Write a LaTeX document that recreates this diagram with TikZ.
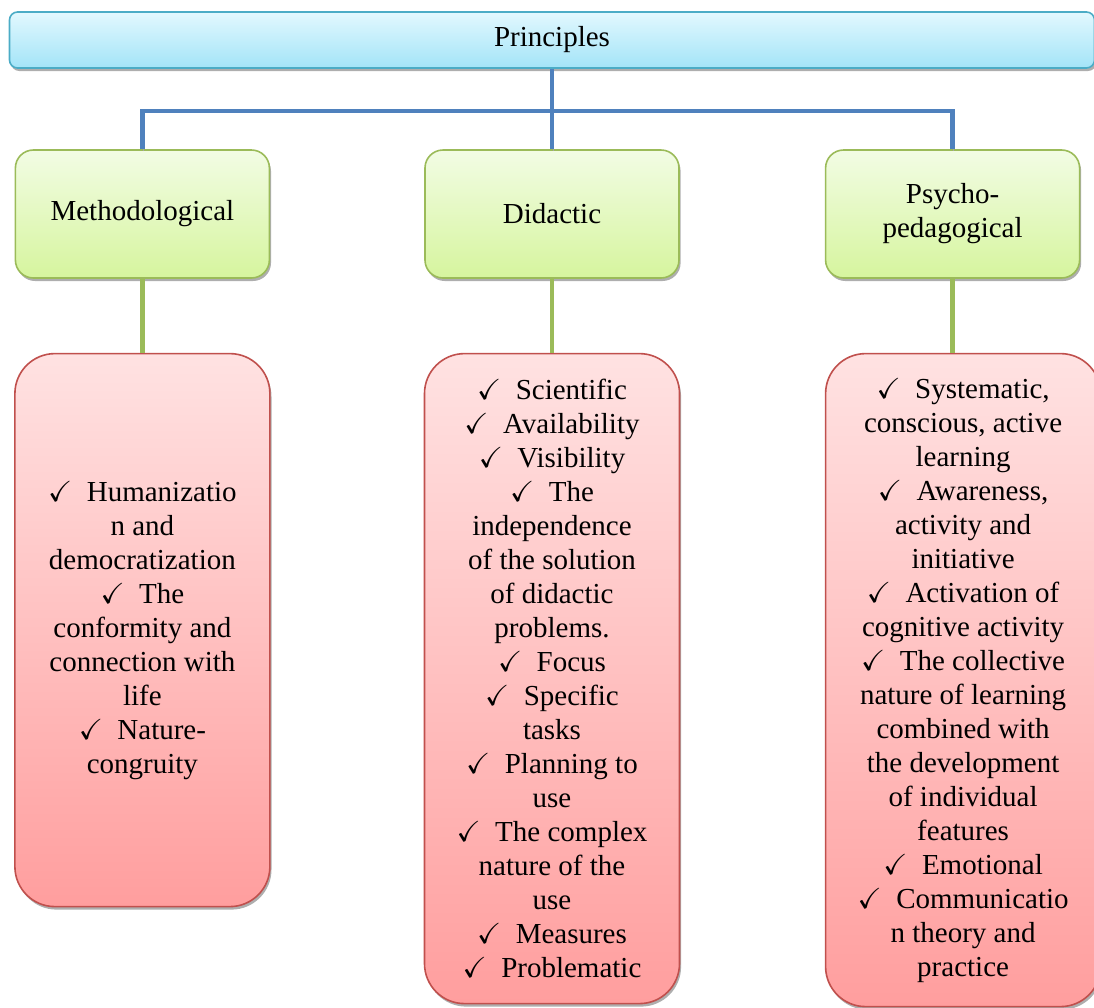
\documentclass[tikz,border=0pt]{standalone}
\usepackage{amssymb}
\usepackage{fontspec}
\setmainfont{Liberation Serif}
\usetikzlibrary{positioning, calc, shadows}
\definecolor{headtop}{HTML}{E2F8FE}
\definecolor{headbot}{HTML}{A3E4F8}
\definecolor{headline}{HTML}{4BACC6}
\definecolor{grptop}{HTML}{F2FCE4}
\definecolor{grpbot}{HTML}{D6F59E}
\definecolor{grpline}{HTML}{9BBB59}
\definecolor{itemtop}{HTML}{FFE2E2}
\definecolor{itembot}{HTML}{FF9E9E}
\definecolor{itemline}{HTML}{C0504D}
\definecolor{busblue}{HTML}{4F81BD}
\newcommand{\chkmark}{$\checkmark$\ \ }

\begin{document}
\begin{tikzpicture}[
    x=0.5pt, y=-0.5pt,
    node distance=37pt,
    every node/.style={font=\fontsize{14.5}{17}\selectfont, align=center},
    boxshadow/.style={drop shadow={shadow xshift=0.8pt, shadow yshift=-1.5pt, fill=black!45, opacity=0.7}},
    header/.style={rectangle, rounded corners=4pt, draw=headline, thick, top color=headtop, bottom color=headbot, minimum width=542.5pt, minimum height=28pt, boxshadow},
    group/.style={rectangle, rounded corners=9pt, draw=grpline, thick, top color=grptop, bottom color=grpbot, minimum width=127pt, minimum height=64pt, boxshadow},
    items/.style={rectangle, rounded corners=20pt, draw=itemline, thick, top color=itemtop, bottom color=itembot, minimum width=127.5pt, boxshadow},
    busline/.style={draw=busblue, line width=2.25pt, preaction={draw=black!35, transform canvas={shift={(0.6pt,-0.9pt)}}}},
    stemline/.style={draw=grpline, line width=2.25pt}
]
\useasboundingbox (0,0) rectangle (1094,1008);
\clip (0,0) rectangle (1094,1008);

\node[header] (prin) at (552,40) {Principles};

\node[group] (didac) at (552,214) {Didactic};
\node[group, left=77pt of didac] (meth) {Methodological};
\node[group, right=72.5pt of didac] (psych) {Psycho-\\pedagogical};

\node[items, minimum height=276.5pt, below=of meth] (methlist) {\chkmark Humanizatio\\n and\\democratization\\\chkmark The\\conformity and\\connection with\\life\\\chkmark Nature-\\congruity};

\node[items, minimum height=325pt, below=of didac] (didaclist) {\chkmark Scientific\\\chkmark Availability\\\chkmark Visibility\\\chkmark The\\independence\\of the solution\\of didactic\\problems.\\\chkmark Focus\\\chkmark Specific\\tasks\\\chkmark Planning to\\use\\\chkmark The complex\\nature of the\\use\\\chkmark Measures\\\chkmark Problematic};

\node[items, minimum height=326.5pt, minimum width=137.5pt, below=of psych, xshift=5.25pt] (psychlist) {\chkmark Systematic,\\conscious, active\\learning\\\chkmark Awareness,\\activity and\\initiative\\\chkmark Activation of\\cognitive activity\\\chkmark The collective\\nature of learning\\combined with\\the development\\of individual\\features\\\chkmark Emotional\\\chkmark Communicatio\\n theory and\\practice};

\coordinate (bus) at ($(prin.south)+(0,-21pt)$);
\draw[busline] (prin.south) -- (didac.north);
\draw[busline] (meth.north) |- (bus) -| (psych.north);

\draw[stemline] (meth.south) -- (methlist.north);
\draw[stemline] (didac.south) -- (didaclist.north);
\draw[stemline] (psych.south) -- (psych.south |- psychlist.north);

\end{tikzpicture}
\end{document}
